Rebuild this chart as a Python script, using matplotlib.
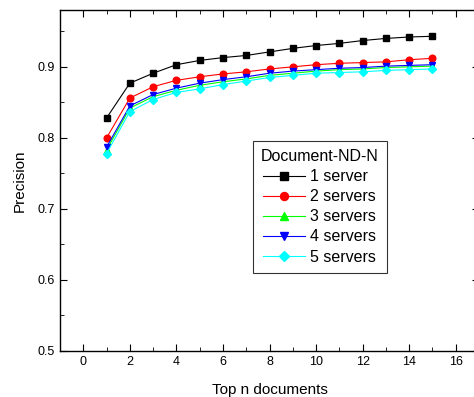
import matplotlib
matplotlib.use("Agg")
import matplotlib.pyplot as plt
from matplotlib.ticker import MultipleLocator

top_n = list(range(1, 16))

# Precision for each number of servers
one_server = [0.828, 0.877, 0.891, 0.903, 0.909, 0.913, 0.916, 0.921,
              0.926, 0.930, 0.933, 0.937, 0.940, 0.942, 0.943]
two_servers = [0.800, 0.856, 0.872, 0.881, 0.886, 0.890, 0.893, 0.897,
               0.900, 0.903, 0.905, 0.906, 0.907, 0.910, 0.912]
three_servers = [0.783, 0.842, 0.858, 0.867, 0.874, 0.879, 0.883, 0.888,
                 0.891, 0.894, 0.896, 0.897, 0.899, 0.900, 0.901]
four_servers = [0.787, 0.845, 0.861, 0.870, 0.877, 0.882, 0.886, 0.891,
                0.894, 0.896, 0.898, 0.899, 0.901, 0.902, 0.903]
five_servers = [0.778, 0.837, 0.854, 0.864, 0.869, 0.875, 0.880, 0.885,
                0.888, 0.891, 0.892, 0.893, 0.895, 0.896, 0.897]

SERIES = [
    ("1 server",  one_server,    "black", "s"),
    ("2 servers", two_servers,   "red",   "o"),
    ("3 servers", three_servers, "#00ff00", "^"),
    ("4 servers", four_servers,  "blue",  "v"),
    ("5 servers", five_servers,  "cyan",  "D"),
]

plt.rcParams.update({
    "font.family": ["Liberation Sans", "DejaVu Sans"],
    "font.size": 9,
})

fig = plt.figure(figsize=(4.74, 3.97), dpi=100)
ax = fig.add_axes([0.1266, 0.1159, 0.884, 0.8589])

for label, vals, color, marker in SERIES:
    ms = 4.8 if marker != "D" else 4.5
    ax.plot(top_n, vals, color=color, marker=marker, markersize=ms,
            linewidth=0.8, label=label)

ax.set_xlim(-1, 17)
ax.set_ylim(0.5, 0.98)
ax.xaxis.set_major_locator(MultipleLocator(2))
ax.xaxis.set_minor_locator(MultipleLocator(1))
ax.yaxis.set_major_locator(MultipleLocator(0.1))
ax.yaxis.set_minor_locator(MultipleLocator(0.05))
ax.tick_params(which="both", direction="in", top=True, right=True,
               labelsize=9)
ax.tick_params(which="major", length=5)
ax.tick_params(which="minor", length=3)
for s in ax.spines.values():
    s.set_linewidth(1.0)

ax.set_xlabel("Top n documents", fontsize=11, labelpad=11)
ax.set_ylabel("Precision", fontsize=11, labelpad=8)

leg = ax.legend(title="Document-ND-N", loc="upper left",
                bbox_to_anchor=(0.4606, 0.6158), borderaxespad=0,
                fontsize=11.5, title_fontsize=11.5, frameon=True,
                fancybox=False, edgecolor="black", handlelength=2.6,
                handletextpad=0.35, borderpad=0.5, labelspacing=0.32,
                markerscale=1.2)
leg.get_frame().set_linewidth(0.8)

fig.savefig("out.png", dpi=100)
